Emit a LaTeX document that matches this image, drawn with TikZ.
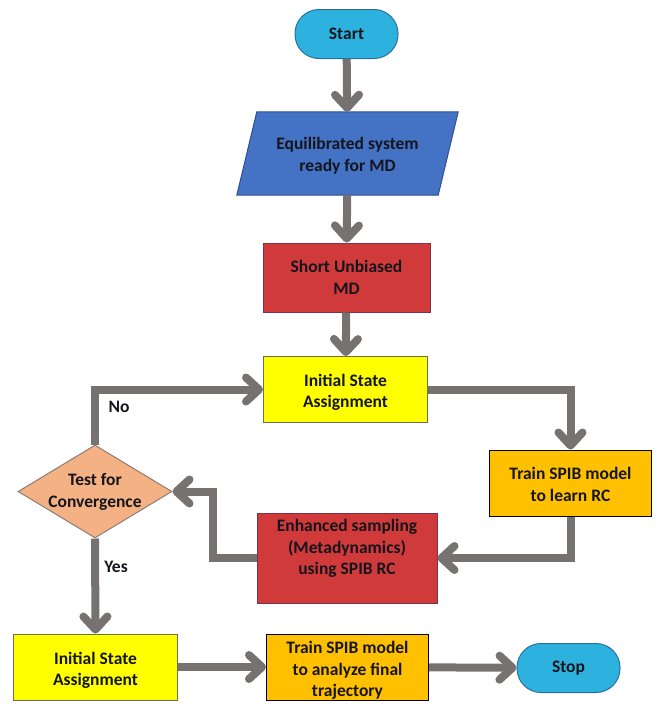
\documentclass[tikz,border=0pt]{standalone}
\usepackage{fontspec}
\setmainfont{Carlito}
\usetikzlibrary{arrows.meta,shapes.geometric,backgrounds,calc}
\definecolor{termfill}{HTML}{2DB2E0}
\definecolor{termline}{HTML}{2B6F9C}
\definecolor{parafill}{HTML}{4472C4}
\definecolor{paraline}{HTML}{2F528F}
\definecolor{redfill}{HTML}{D03A3B}
\definecolor{redline}{HTML}{7A3447}
\definecolor{yelfill}{HTML}{FFFF00}
\definecolor{yelline}{HTML}{6E6E50}
\definecolor{orafill}{HTML}{FFC000}
\definecolor{diafill}{HTML}{F4B183}
\definecolor{dialine}{HTML}{8C7C74}
\definecolor{arrowgray}{HTML}{777272}
\definecolor{txt}{HTML}{15151C}
\begin{document}
\begin{tikzpicture}[x=1pt,y=-1pt,
  every node/.style={font=\fontsize{17.5}{21.5}\selectfont\bfseries, text=txt, align=center, inner sep=0pt},
  terminal/.style={draw=termline, fill=termfill, line width=1pt, rounded corners=24pt, minimum width=103pt, minimum height=49pt},
  procbox/.style={draw, line width=1pt, minimum width=#1},
  redbox/.style={procbox=167pt, draw=redline, fill=redfill},
  yelbox/.style={procbox=164pt, draw=yelline, fill=yelfill, minimum height=66pt},
  orabox/.style={procbox=162pt, draw=black, fill=orafill, minimum height=66pt},
  flow/.style={draw=arrowgray, line width=8pt, -{Straight Barb[length=13pt,width=24pt,round]}},
  lbl/.style={}
]
\useasboundingbox (0,0) rectangle (669,720);

% nodes
\node[terminal] (start) at (346.5,34) {Start};
\node[minimum width=201pt, minimum height=83pt, text height=38pt] (eq) at (347.5,153.5) {Equilibrated system\\ready for MD};
\node[redbox, minimum height=69pt] (smd) at (346.5,277.5) {Short Unbiased\\MD};
\node[yelbox, text height=39pt] (isa1) at (345.5,389.5) {Initial State\\Assignment};
\node[orabox, text height=37pt] (train1) at (570.5,483) {Train SPIB model\\to learn RC};
\node[procbox=180pt, draw=redline, fill=redfill, minimum height=90pt] (enh) at (347,558) {};
\node (enhtext) at (347,548.5) {Enhanced sampling\\(Metadynamics)\\using SPIB RC};
\node[diamond, draw=dialine, fill=diafill, line width=1pt, minimum width=154pt, minimum height=93pt] (conv) at (95,491.5) {};
\node (convtext) at (95,492) {Test for\\Convergence};
\node[yelbox, text height=40pt] (isa2) at (95.5,667) {Initial State\\Assignment};
\node[orabox, text height=62.5pt] (train2) at (347.5,667) {Train SPIB model\\to analyze final\\trajectory};
\node[terminal] (stop) at (568.5,668) {Stop};
\node[lbl] (no) at (119,406.5) {No};
\node[lbl] (yes) at (116,566.5) {Yes};

\begin{scope}[on background layer]
\draw[draw=paraline, fill=parafill, line width=1pt]
  ([xshift=10pt]eq.north west) -- ([xshift=10pt]eq.north east) --
  ([xshift=-10pt]eq.south east) -- ([xshift=-10pt]eq.south west) -- cycle;
\end{scope}

% connectors
\draw[flow] (start) -- (eq);
\draw[flow] (eq) -- (smd);
\draw[flow] (smd) -- (isa1);
\draw[flow] (isa1.east) -| (train1.north);
\draw[flow] (train1.south) |- (enh.east);
\draw[flow] (enh.west) -- ++(-44,0) |- (conv.east);
\draw[flow] (conv.north) |- (isa1.west);
\draw[flow] (conv.south) -- (isa2.north);
\draw[flow] (isa2) -- (train2);
\draw[flow] (train2) -- (stop);
\end{tikzpicture}
\end{document}
